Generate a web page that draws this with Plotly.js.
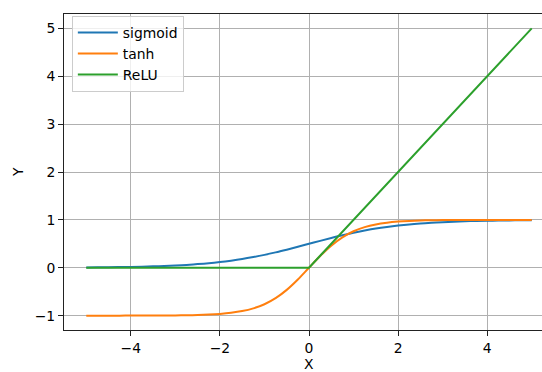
<!DOCTYPE html>
<html><head><meta charset="utf-8">
<script src="https://cdn.plot.ly/plotly-3.0.1.min.js"></script>
<style>html,body{margin:0;padding:0;overflow:hidden;background:#fff;width:542px;height:372px}</style>
</head><body><div id="chart"></div>
<script>
const xValues = [-5,-4.75,-4.5,-4.25,-4,-3.75,-3.5,-3.25,-3,-2.75,-2.5,-2.25,-2,-1.75,-1.5,-1.25,-1,-0.75,-0.5,-0.25,0,0.25,0.5,0.75,1,1.25,1.5,1.75,2,2.25,2.5,2.75,3,3.25,3.5,3.75,4,4.25,4.5,4.75,5];
const sigmoidValues = [0.007,0.009,0.011,0.014,0.018,0.023,0.029,0.037,0.047,0.060,0.076,0.095,0.119,0.148,0.182,0.223,0.269,0.321,0.378,0.438,0.5,0.562,0.622,0.679,0.731,0.777,0.818,0.852,0.881,0.905,0.924,0.940,0.953,0.963,0.971,0.977,0.982,0.986,0.989,0.991,0.993];
const tanhValues = [-1.0,-1.0,-1.0,-1.0,-0.999,-0.999,-0.998,-0.997,-0.995,-0.992,-0.987,-0.978,-0.964,-0.941,-0.905,-0.848,-0.762,-0.635,-0.462,-0.245,0,0.245,0.462,0.635,0.762,0.848,0.905,0.941,0.964,0.978,0.987,0.992,0.995,0.997,0.998,0.999,0.999,1.0,1.0,1.0,1.0];
const reluValues = [0,0,0,0,0,0,0,0,0,0,0,0,0,0,0,0,0,0,0,0,0,0.25,0.5,0.75,1,1.25,1.5,1.75,2,2.25,2.5,2.75,3,3.25,3.5,3.75,4,4.25,4.5,4.75,5];
const seriesNames = ['sigmoid','tanh','ReLU'];
const xTicks = [-4,-2,0,2,4];
const yTicks = [-1,0,1,2,3,4,5];
const xTitle = 'X';
const yTitle = 'Y';

const colors = ['#1f77b4','#ff7f0e','#2ca02c'];
const ys = [sigmoidValues, tanhValues, reluValues];
const traces = ys.map((y,i)=>({x:xValues,y:y,type:'scatter',mode:'lines',name:seriesNames[i],
  line:{color:colors[i],width:2,shape:i===2?'linear':'spline'}}));
const font = {family:'DejaVu Sans, sans-serif',size:13.9,color:'#000'};
const axisCommon = {showline:true,linecolor:'#222',linewidth:1,mirror:true,ticks:'outside',ticklen:5,tickwidth:1,tickcolor:'#222',
  showgrid:true,gridcolor:'#b0b0b0',gridwidth:1,zeroline:false,tickfont:font};
const layout = {
  width:556,height:372,
  margin:{l:64,r:2,t:14,b:42},
  paper_bgcolor:'#fff',plot_bgcolor:'#fff',font:font,
  xaxis:Object.assign({},axisCommon,{range:[-5.5,5.5],tickvals:xTicks}),
  yaxis:Object.assign({},axisCommon,{range:[-1.3,5.3],tickvals:yTicks}),
  annotations:[
    {text:xTitle,xref:'paper',yref:'paper',x:0.5,y:-0.108,xanchor:'center',yanchor:'middle',showarrow:false,font:font},
    {text:yTitle,xref:'paper',yref:'paper',x:-0.094,y:0.5,xanchor:'center',yanchor:'middle',textangle:-90,showarrow:false,font:font}
  ],
  showlegend:true,
  legend:{x:0.016,y:0.994,xanchor:'left',yanchor:'top',bgcolor:'rgba(255,255,255,0.8)',bordercolor:'#cccccc',borderwidth:1,font:font,itemwidth:40}
};
Plotly.newPlot('chart',traces,layout,{staticPlot:true,displayModeBar:false});
</script></body></html>
